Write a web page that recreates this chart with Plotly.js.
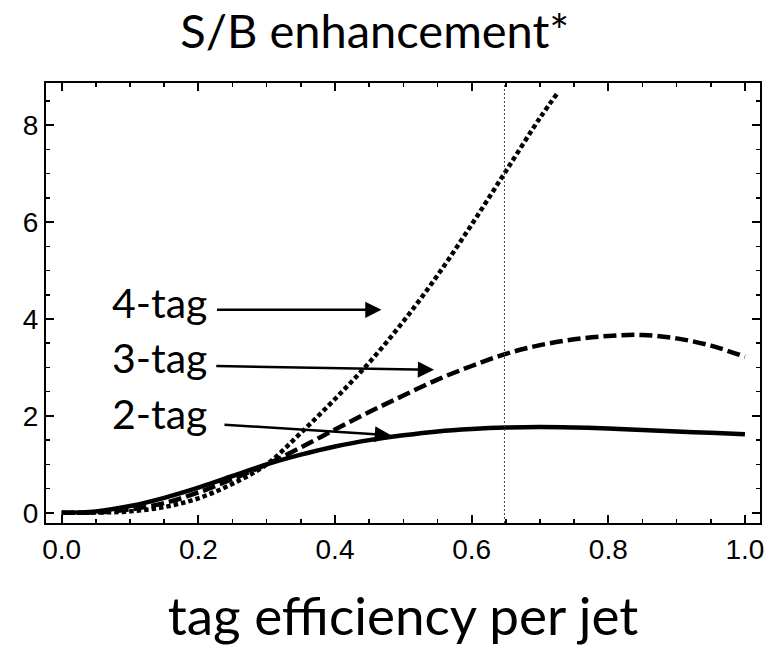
<!DOCTYPE html>
<html>
<head>
<meta charset="utf-8">
<script src="https://cdn.plot.ly/plotly-3.0.1.min.js"></script>
<style>html,body{margin:0;padding:0;background:#fff;}#chart{width:776px;height:651px;}</style>
</head>
<body>
<div id="chart"></div>
<script>
// Tag efficiency per jet (x)
const effX = [0, 0.05, 0.1, 0.15, 0.2, 0.25, 0.3, 0.35, 0.4, 0.45, 0.5, 0.55, 0.6, 0.65, 0.7, 0.75, 0.8, 0.85, 0.9, 0.95, 1.0];
// S/B enhancement, 2-tag (solid)
const twoTag = [0, 0.03, 0.14, 0.31, 0.52, 0.76, 1.0, 1.2, 1.37, 1.5, 1.6, 1.68, 1.73, 1.76, 1.77, 1.76, 1.74, 1.71, 1.68, 1.65, 1.62];
// S/B enhancement, 3-tag (dashed)
const threeTag = [0, 0.01, 0.07, 0.2, 0.42, 0.7, 1.0, 1.35, 1.72, 2.08, 2.42, 2.75, 3.03, 3.28, 3.46, 3.58, 3.65, 3.67, 3.6, 3.45, 3.22];
// S/B enhancement, 4-tag (dotted), ends off the top
const fourTagX = [0, 0.05, 0.1, 0.15, 0.2, 0.25, 0.3, 0.35, 0.4, 0.45, 0.5, 0.55, 0.6, 0.65, 0.7, 0.725];
const fourTag = [0, 0.005, 0.03, 0.12, 0.3, 0.6, 1.0, 1.65, 2.35, 3.1, 3.95, 4.9, 5.95, 7.05, 8.15, 8.65];
// reference efficiency (vertical dotted line)
const refEff = 0.648;
// axis limits
const xRange = [-0.023, 1.022];
const yRange = [-0.21, 8.87];
// labels and arrows
const labelNames = ["4-tag", "3-tag", "2-tag"];
const labelX = [0.143, 0.143, 0.143];
const labelY = [4.35, 3.2, 2.05];
const arrowTailX = [0.225, 0.224, 0.236];
const arrowTailY = [4.19, 3.03, 1.82];
const arrowHeadX = [0.468, 0.545, 0.482];
const arrowHeadY = [4.19, 2.95, 1.6];

const bigFont = "Lato, 'Open Sans', sans-serif";

const traces = [
  {x: effX, y: twoTag, mode: 'lines', line: {color: '#000', width: 4.5, shape: 'spline'}, name: '2-tag', hoverinfo: 'skip'},
  {x: effX, y: threeTag, mode: 'lines', line: {color: '#000', width: 4.5, dash: '13px,5px', shape: 'spline'}, name: '3-tag', hoverinfo: 'skip'},
  {x: fourTagX, y: fourTag, mode: 'lines', line: {color: '#000', width: 4.5, dash: '4.5px,3px', shape: 'spline'}, name: '4-tag', hoverinfo: 'skip'},
  {x: [refEff, refEff], y: yRange, mode: 'lines', line: {color: '#444', width: 1, dash: '2px,2px'}, name: 'ref', hoverinfo: 'skip'}
];

const annotations = [];
for (let i = 0; i < labelNames.length; i++) {
  annotations.push({x: labelX[i], y: labelY[i], xref: 'x', yref: 'y', text: labelNames[i], showarrow: false,
    font: {family: bigFont, size: 41, color: '#000'}, xanchor: 'center', yanchor: 'middle'});
  annotations.push({x: arrowHeadX[i], y: arrowHeadY[i], ax: arrowTailX[i], ay: arrowTailY[i], xref: 'x', yref: 'y',
    axref: 'x', ayref: 'y', text: '', showarrow: true, arrowhead: 2, arrowsize: 1.3, arrowwidth: 2.5, arrowcolor: '#000'});
}

const axisCommon = {
  showgrid: false, zeroline: false, showline: true, linecolor: '#000', linewidth: 2, mirror: 'allticks',
  ticks: 'inside', ticklen: 8, tickwidth: 2, tickcolor: '#000',
  tickfont: {family: "'Liberation Sans', Arial, sans-serif", size: 28, color: '#000'}
};

const layout = {
  width: 776, height: 651,
  margin: {l: 46, r: 16, t: 83, b: 128},
  paper_bgcolor: '#fff', plot_bgcolor: '#fff',
  showlegend: false,
  title: {text: 'S/B enhancement*', font: {family: bigFont, size: 47, color: '#000'}, x: 0.483, xanchor: 'center', y: 0.951, yanchor: 'middle', yref: 'container'},
  xaxis: Object.assign({}, axisCommon, {
    range: xRange, tickmode: 'array', tickvals: [0, 0.2, 0.4, 0.6, 0.8, 1.0], ticktext: ['0.0', '0.2', '0.4', '0.6', '0.8', '1.0'],
    minor: {ticks: 'inside', dtick: 0.05, tick0: 0, ticklen: 4, tickwidth: 1.5, tickcolor: '#000'},
    title: {text: 'tag efficiency per jet', font: {family: bigFont, size: 53, color: '#000'}, standoff: 34}
  }),
  yaxis: Object.assign({}, axisCommon, {
    range: yRange, tickmode: 'array', tickvals: [0, 2, 4, 6, 8],
    minor: {ticks: 'inside', dtick: 0.5, tick0: 0, ticklen: 4, tickwidth: 1.5, tickcolor: '#000'}
  }),
  annotations: annotations
};

Plotly.newPlot('chart', traces, layout, {displayModeBar: false, staticPlot: true});
</script>
</body>
</html>
